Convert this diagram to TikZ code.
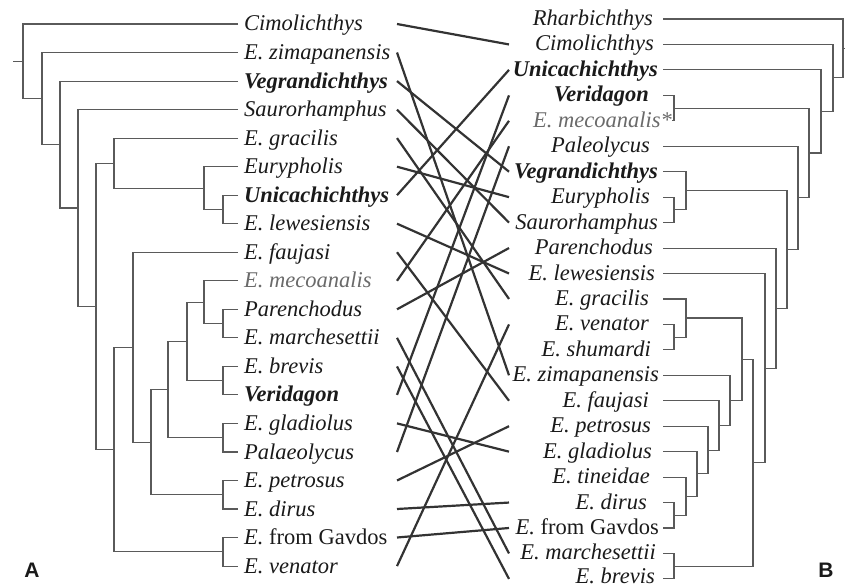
\documentclass[tikz,border=0pt]{standalone}
\usepackage{fontspec}
\setmainfont{Liberation Serif}
\newfontfamily\labsans{Liberation Sans}
\definecolor{treegray}{HTML}{5A5A5A}
\definecolor{crossgray}{HTML}{333333}
\definecolor{labblack}{HTML}{1A1A1A}
\definecolor{meco}{HTML}{6A6A6A}
\newcommand\clade[3]{\draw[tree] (#2) -| (#1) |- (#3);}
\begin{document}
\begin{tikzpicture}[x=1pt,y=-1pt,
  tree/.style={draw=treegray,line width=1.1pt},
  cross/.style={draw=crossgray,line width=2.2pt},
  lab/.style={inner sep=0pt,text=labblack,font=\fontsize{22.5}{24}\selectfont\itshape},
  panel/.style={inner sep=0pt,text=labblack,font=\labsans\bfseries\fontsize{21}{21}\selectfont}]
\useasboundingbox (0,0) rectangle (845,588);

% ---------- coordinates of rows ----------
\foreach \i/\y in {0/24,1/52.5,2/81.1,3/109.6,4/138.1,5/166.7,6/195.2,7/223.7,8/252.2,9/280.8,10/309.3,11/337.8,12/366.4,13/394.9,14/423.4,15/452.0,16/480.5,17/509.0,18/537.5,19/566.1}{
  \coordinate (tl\i) at (238,\y);
  \coordinate (cl\i) at (397,\y);
}
\foreach \j/\y in {0/19,1/44.45,2/69.9,3/95.35,4/120.8,5/146.25,6/171.7,7/197.15,8/222.6,9/248.05,10/273.5,11/298.95,12/324.4,13/349.85,14/375.3,15/400.75,16/426.2,17/451.65,18/477.1,19/502.55,20/528.0,21/553.45,22/578.9}{
  \coordinate (tr\j) at (663,\y);
  \coordinate (cr\j) at (509,\y);
}
\coordinate (tr4) at (672,120.8);

% ---------- left labels ----------
\node[lab,anchor=base west] (L0) at (244,31) {Cimolichthys};
\node[lab,anchor=base west] (L1) at (244,59.5) {E. zimapanensis};
\node[lab,anchor=base west] (L2) at (244,88.1) {\bfseries Vegrandichthys};
\node[lab,anchor=base west] (L3) at (244,116.6) {Saurorhamphus};
\node[lab,anchor=base west] (L4) at (244,145.1) {E. gracilis};
\node[lab,anchor=base west] (L5) at (244,173.7) {Eurypholis};
\node[lab,anchor=base west] (L6) at (244,202.2) {\bfseries Unicachichthys};
\node[lab,anchor=base west] (L7) at (244,230.7) {E. lewesiensis};
\node[lab,anchor=base west] (L8) at (244,259.2) {E. faujasi};
\node[lab,anchor=base west,text=meco] (L9) at (244,287.8) {E. mecoanalis};
\node[lab,anchor=base west] (L10) at (244,316.3) {Parenchodus};
\node[lab,anchor=base west] (L11) at (244,344.8) {E. marchesettii};
\node[lab,anchor=base west] (L12) at (244,373.4) {E. brevis};
\node[lab,anchor=base west] (L13) at (244,401.9) {\bfseries Veridagon};
\node[lab,anchor=base west] (L14) at (244,430.4) {E. gladiolus};
\node[lab,anchor=base west] (L15) at (244,459) {Palaeolycus};
\node[lab,anchor=base west] (L16) at (244,487.5) {E. petrosus};
\node[lab,anchor=base west] (L17) at (244,516) {E. dirus};
\node[lab,anchor=base west] (L18) at (244,544.5) {E.\upshape\ from Gavdos};
\node[lab,anchor=base west] (L19) at (244,573.1) {E. venator};

% ---------- right labels ----------
\node[lab,anchor=base east] (R0) at (653,25.5) {Rharbichthys};
\node[lab,anchor=base east] (R1) at (654,50.95) {Cimolichthys};
\node[lab,anchor=base east] (R2) at (658,76.4) {\bfseries Unicachichthys};
\node[lab,anchor=base east] (R3) at (649,101.85) {\bfseries Veridagon};
\node[lab,anchor=base east,text=meco] (R4) at (672,127.3) {E. mecoanalis*};
\node[lab,anchor=base east] (R5) at (650,152.75) {Paleolycus};
\node[lab,anchor=base east] (R6) at (658,178.2) {\bfseries Vegrandichthys};
\node[lab,anchor=base east] (R7) at (650,203.65) {Eurypholis};
\node[lab,anchor=base east] (R8) at (658,229.1) {Saurorhamphus};
\node[lab,anchor=base east] (R9) at (653,254.55) {Parenchodus};
\node[lab,anchor=base east] (R10) at (655,280) {E. lewesiensis};
\node[lab,anchor=base east] (R11) at (649,305.45) {E. gracilis};
\node[lab,anchor=base east] (R12) at (649,330.9) {E. venator};
\node[lab,anchor=base east] (R13) at (651,356.35) {E. shumardi};
\node[lab,anchor=base east] (R14) at (659,381.8) {E. zimapanensis};
\node[lab,anchor=base east] (R15) at (649,407.25) {E. faujasi};
\node[lab,anchor=base east] (R16) at (651,432.7) {E. petrosus};
\node[lab,anchor=base east] (R17) at (652,458.15) {E. gladiolus};
\node[lab,anchor=base east] (R18) at (650,483.6) {E. tineidae};
\node[lab,anchor=base east] (R19) at (647,509.05) {E. dirus};
\node[lab,anchor=base east] (R20) at (659,534.5) {E.\upshape\ from Gavdos};
\node[lab,anchor=base east] (R21) at (656,559.95) {E. marchesettii};
\node[lab,anchor=base east] (R22) at (655,583.6) {E. brevis};

% ---------- panel letters ----------
\node[panel] (A) at (32,570) {A};
\node[panel] (B) at (826,570) {B};

% ---------- left tree ----------
\coordinate (a1) at (223,209.5);  \clade{a1}{tl6}{tl7}
\coordinate (a2) at (204,188.1);  \clade{a2}{tl5}{a1}
\coordinate (a3) at (114,163.1);  \clade{a3}{tl4}{a2}
\coordinate (a4) at (223,323.6);  \clade{a4}{tl10}{tl11}
\coordinate (a5) at (204,302.2);  \clade{a5}{tl9}{a4}
\coordinate (a6) at (223,380.6);  \clade{a6}{tl12}{tl13}
\coordinate (a7) at (187,341.4);  \clade{a7}{a5}{a6}
\coordinate (a8) at (223,437.7);  \clade{a8}{tl14}{tl15}
\coordinate (a9) at (168,389.6);  \clade{a9}{a7}{a8}
\coordinate (a10) at (223,494.8); \clade{a10}{tl16}{tl17}
\coordinate (a11) at (151,442.2); \clade{a11}{a9}{a10}
\coordinate (a12) at (133,347.2); \clade{a12}{tl8}{a11}
\coordinate (a13) at (223,551.8); \clade{a13}{tl18}{tl19}
\coordinate (a14) at (114,449.5); \clade{a14}{a12}{a13}
\coordinate (a15) at (96,306.3);  \clade{a15}{a3}{a14}
\coordinate (a16) at (78,208);    \clade{a16}{tl3}{a15}
\coordinate (a17) at (60,144.5);  \clade{a17}{tl2}{a16}
\coordinate (a18) at (42,98.5);   \clade{a18}{tl1}{a17}
\coordinate (a19) at (23,61.3);   \clade{a19}{tl0}{a18}
\coordinate (aroot) at (13,61.3); \draw[tree] (aroot) -- (a19);

% ---------- right tree ----------
\coordinate (b1) at (674,108.1);  \clade{b1}{tr3}{tr4}
\coordinate (b2) at (674,209.9);  \clade{b2}{tr7}{tr8}
\coordinate (b3) at (686,190.8);  \clade{b3}{tr6}{b2}
\coordinate (b4) at (674,337.1);  \clade{b4}{tr12}{tr13}
\coordinate (b5) at (686,318.0);  \clade{b5}{tr11}{b4}
\coordinate (b6) at (674,515.3);  \clade{b6}{tr19}{tr20}
\coordinate (b7) at (686,496.2);  \clade{b7}{tr18}{b6}
\coordinate (b8) at (697,473.9);  \clade{b8}{tr17}{b7}
\coordinate (b9) at (708,450.1);  \clade{b9}{tr16}{b8}
\coordinate (b10) at (719,425.4); \clade{b10}{tr15}{b9}
\coordinate (b11) at (730,400.4); \clade{b11}{tr14}{b10}
\coordinate (b12) at (742,359.2); \clade{b12}{b5}{b11}
\coordinate (b13) at (674,566.2); \clade{b13}{tr21}{tr22}
\coordinate (b14) at (753,462.7); \clade{b14}{b12}{b13}
\coordinate (b15) at (765,368.1); \clade{b15}{tr10}{b14}
\coordinate (b16) at (776,308.1); \clade{b16}{tr9}{b15}
\coordinate (b17) at (787,249.4); \clade{b17}{b3}{b16}
\coordinate (b18) at (798,197.8); \clade{b18}{tr5}{b17}
\coordinate (b19) at (809,153.0); \clade{b19}{b1}{b18}
\coordinate (b20) at (821,111.4); \clade{b20}{tr2}{b19}
\coordinate (b21) at (833,77.9);  \clade{b21}{tr1}{b20}
\coordinate (b22) at (843,48.5);  \clade{b22}{tr0}{b21}
\coordinate (broot) at (845,48.5); \draw[tree] (b22) -- (broot);

% ---------- connecting lines ----------
\foreach \l/\r in {0/1,1/14,2/6,3/8,4/11,5/7,6/2,7/10,8/15,9/4,10/9,11/21,12/22,13/3,14/17,15/5,16/16,17/19,18/20,19/12}{
  \draw[cross] (cl\l) -- (cr\r);
}
\end{tikzpicture}
\end{document}
